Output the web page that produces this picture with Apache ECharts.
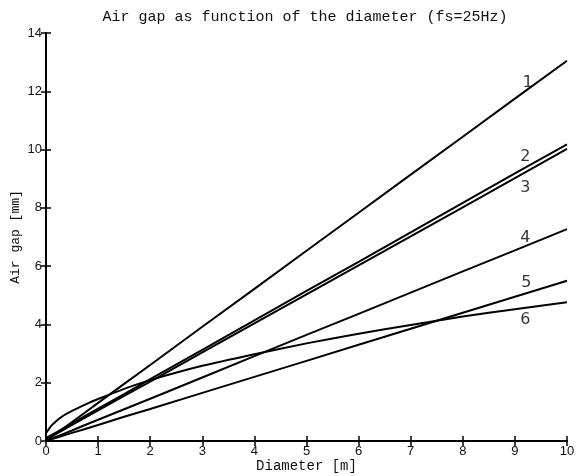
<!DOCTYPE html>
<html>
<head>
<meta charset="utf-8">
<script src="https://cdn.jsdelivr.net/npm/echarts@6/dist/echarts.min.js"></script>
<style>
  html, body { margin: 0; padding: 0; background: #fff; }
  #chart { width: 578px; height: 476px; }
</style>
</head>
<body>
<div id="chart"></div>
<script>
// Air gap vs. rotor diameter, six design cases
const titleText = 'Air gap as function of the diameter (fs=25Hz)';
const xName = 'Diameter [m]';
const yName = 'Air gap [mm]';

const diameter = [0, 0.1, 0.2, 0.3, 0.5, 0.75, 1, 1.5, 2, 3, 4, 5, 6, 7, 8, 9, 10];

const gap1 = [0, 0.13, 0.26, 0.39, 0.65, 0.98, 1.31, 1.96, 2.61, 3.92, 5.22, 6.53, 7.83, 9.14, 10.44, 11.75, 13.05];
const gap2 = [0.1, 0.2, 0.3, 0.4, 0.6, 0.86, 1.11, 1.61, 2.12, 3.13, 4.14, 5.15, 6.15, 7.16, 8.17, 9.18, 10.18];
const gap3 = [0.05, 0.15, 0.25, 0.35, 0.55, 0.80, 1.05, 1.55, 2.04, 3.04, 4.04, 5.03, 6.03, 7.02, 8.02, 9.02, 10.02];
const gap4 = [0, 0.07, 0.15, 0.22, 0.36, 0.55, 0.73, 1.09, 1.45, 2.18, 2.91, 3.64, 4.36, 5.09, 5.82, 6.54, 7.27];
const gap5 = [0, 0.06, 0.11, 0.17, 0.28, 0.41, 0.55, 0.83, 1.10, 1.65, 2.20, 2.75, 3.30, 3.85, 4.40, 4.95, 5.50];
const gap6 = [0.27, 0.52, 0.69, 0.83, 1.03, 1.25, 1.44, 1.79, 2.09, 2.58, 2.98, 3.35, 3.68, 3.98, 4.27, 4.52, 4.76];

const curveNames = ['1', '2', '3', '4', '5', '6'];
const labelX = [9.25, 9.2, 9.2, 9.2, 9.22, 9.2];
const labelY = [12.3, 9.75, 8.68, 6.97, 5.42, 4.15];

const xTicks = [0, 1, 2, 3, 4, 5, 6, 7, 8, 9, 10];
const yTicks = [0, 2, 4, 6, 8, 10, 12, 14];

const allGaps = [gap1, gap2, gap3, gap4, gap5, gap6];

const chart = echarts.init(document.getElementById('chart'));

const axisFont = { fontFamily: 'Liberation Sans', fontSize: 13, color: '#111' };
const frameLine = { show: true, lineStyle: { color: '#000', width: 2 } };
const innerTick = { show: true, inside: true, length: 5, lineStyle: { color: '#000', width: 1.5 } };

const lineSeries = allGaps.map((g, i) => ({
  type: 'line',
  name: curveNames[i],
  data: diameter.map((d, k) => [d, g[k]]),
  showSymbol: false,
  smooth: i === 5 ? 0.25 : false,
  lineStyle: { color: '#000', width: 2 },
  silent: true,
  z: 3
}));

const labelSeries = {
  type: 'scatter',
  symbolSize: 0,
  silent: true,
  data: curveNames.map((n, i) => ({ name: n, value: [labelX[i], labelY[i]] })),
  label: {
    show: true,
    position: 'inside',
    formatter: p => p.name,
    fontFamily: 'DejaVu Sans',
    fontWeight: 'normal',
    fontSize: 16,
    color: '#000'
  },
  z: 4
};

chart.setOption({
  animation: false,
  backgroundColor: '#fff',
  title: {
    text: titleText,
    left: 300,
    textAlign: 'center',
    top: 5,
    textStyle: { fontFamily: 'Liberation Mono', fontSize: 15, fontWeight: 'normal', color: '#111' }
  },
  grid: { left: 46, right: 11, top: 33, bottom: 35, containLabel: false, outerBoundsMode: 'none' },
  xAxis: [
    {
      type: 'value', min: xTicks[0], max: xTicks[xTicks.length - 1], interval: 1,
      position: 'bottom',
      name: xName, nameLocation: 'middle', nameGap: 18, nameMoveOverlap: false,
      nameTextStyle: { fontFamily: 'Liberation Mono', fontSize: 14, color: '#111' },
      axisLine: frameLine, axisTick: innerTick,
      axisLabel: Object.assign({ margin: 4 }, axisFont),
      splitLine: { show: false }
    },
    {
      type: 'value', min: xTicks[0], max: xTicks[xTicks.length - 1], interval: 1,
      position: 'top',
      axisLine: frameLine, axisTick: innerTick,
      axisLabel: { show: false }, splitLine: { show: false }
    }
  ],
  yAxis: [
    {
      type: 'value', min: yTicks[0], max: yTicks[yTicks.length - 1], interval: 2,
      position: 'left',
      name: yName, nameLocation: 'middle', nameGap: 24, nameRotate: 90, nameMoveOverlap: false,
      nameTextStyle: { fontFamily: 'Liberation Mono', fontSize: 13, color: '#111' },
      axisLine: frameLine, axisTick: innerTick,
      axisLabel: Object.assign({ margin: 4 }, axisFont),
      splitLine: { show: false }
    },
    {
      type: 'value', min: yTicks[0], max: yTicks[yTicks.length - 1], interval: 2,
      position: 'right',
      axisLine: frameLine, axisTick: innerTick,
      axisLabel: { show: false }, splitLine: { show: false }
    }
  ],
  series: lineSeries.concat([labelSeries])
});
</script>
</body>
</html>
